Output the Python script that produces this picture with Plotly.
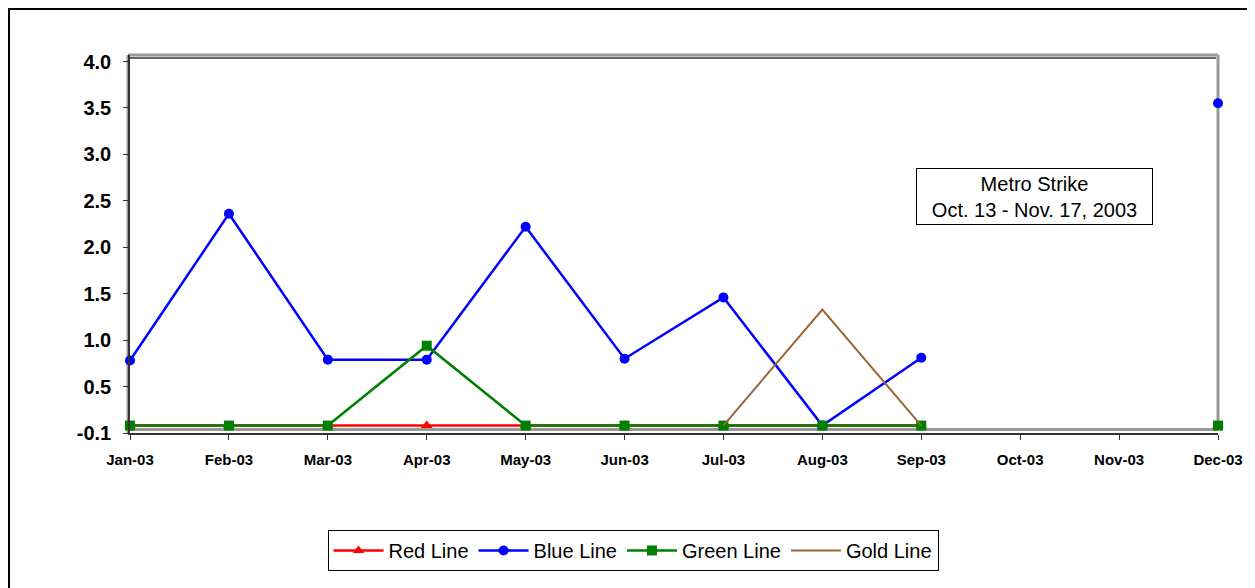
import plotly.graph_objects as go

months = ["Jan-03", "Feb-03", "Mar-03", "Apr-03", "May-03", "Jun-03",
          "Jul-03", "Aug-03", "Sep-03", "Oct-03", "Nov-03", "Dec-03"]

red_vals = [0.08, 0.08, 0.08, 0.08, 0.08, 0.08, 0.08, 0.08, 0.08, None, None, 0.08]
blue_vals = [0.78, 2.36, 0.79, 0.79, 2.22, 0.80, 1.46, 0.08, 0.81, None, None, 3.55]
green_vals = [0.08, 0.08, 0.08, 0.94, 0.08, 0.08, 0.08, 0.08, 0.08, None, None, 0.08]
gold_vals = [None, None, None, None, None, None, 0.08, 1.33, 0.08, None, None, None]

y_tickvals = [0, 0.5, 1.0, 1.5, 2.0, 2.5, 3.0, 3.5, 4.0]
y_ticktext = ["-0.1", "0.5", "1.0", "1.5", "2.0", "2.5", "3.0", "3.5", "4.0"]

FONT = "Arial, Liberation Sans, sans-serif"

fig = go.Figure()
fig.add_trace(go.Scatter(x=months, y=red_vals, name="Red Line", mode="lines+markers",
                         line=dict(color="#FF0000", width=2.5),
                         marker=dict(symbol="triangle-up", size=10, color="#FF0000"),
                         cliponaxis=False, connectgaps=False))
fig.add_trace(go.Scatter(x=months, y=blue_vals, name="Blue Line", mode="lines+markers",
                         line=dict(color="#0000FF", width=2.5),
                         marker=dict(symbol="circle", size=10, color="#0000FF"),
                         cliponaxis=False, connectgaps=False))
fig.add_trace(go.Scatter(x=months, y=green_vals, name="Green Line", mode="lines+markers",
                         line=dict(color="#008000", width=2.5),
                         marker=dict(symbol="square", size=10, color="#008000"),
                         cliponaxis=False, connectgaps=False))
fig.add_trace(go.Scatter(x=months, y=gold_vals, name="Gold Line", mode="lines",
                         line=dict(color="#996633", width=2),
                         cliponaxis=False, connectgaps=False))

OFF = 8  # page body margin
W, H = 1247, 580
L, R, T, B = 122, 37, 47, 155
pw = W - L - R
ph = H - T - B


def px_x(p):
    return (p - OFF - L) / pw


def px_y(p):
    return (H - B - (p - OFF)) / ph


shapes = [
    # outer chart border
    dict(type="rect", xref="paper", yref="paper",
         x0=px_x(9), x1=px_x(1300), y0=px_y(640), y1=px_y(9),
         line=dict(color="#000000", width=2), layer="below"),
    # gray walls
    dict(type="line", xref="paper", yref="paper", x0=px_x(128), x1=px_x(1218),
         y0=px_y(55), y1=px_y(55), line=dict(color="#999999", width=3), layer="below"),
    dict(type="line", xref="paper", yref="paper", x0=px_x(1218), x1=px_x(1218),
         y0=px_y(55), y1=px_y(430), line=dict(color="#999999", width=3), layer="below"),
    dict(type="line", xref="paper", yref="paper", x0=px_x(128), x1=px_x(128),
         y0=px_y(55), y1=px_y(433), line=dict(color="#999999", width=3), layer="below"),
    dict(type="line", xref="paper", yref="paper", x0=px_x(128), x1=px_x(1218),
         y0=px_y(429.5), y1=px_y(429.5), line=dict(color="#999999", width=3), layer="below"),
    dict(type="line", xref="paper", yref="paper", x0=px_x(130), x1=px_x(1216),
         y0=px_y(58), y1=px_y(58), line=dict(color="#333333", width=1.5), layer="below"),
]

fig.update_layout(
    width=W, height=H,
    margin=dict(l=L, r=R, t=T, b=B),
    paper_bgcolor="white", plot_bgcolor="white",
    font=dict(family=FONT, color="black"),
    showlegend=True,
    legend=dict(orientation="h", xref="container", yref="container",
                x=(633 - OFF) / W, xanchor="center", y=1 - (530 - OFF) / H, yanchor="top",
                bordercolor="black", borderwidth=1, bgcolor="white",
                font=dict(size=20, family=FONT),
                itemwidth=50, tracegroupgap=0),
    xaxis=dict(type="category", categoryorder="array", categoryarray=months,
               range=[0, 11], showgrid=False, zeroline=False,
               showline=True, linecolor="#333333", linewidth=1.5,
               ticks="outside", ticklen=5, tickcolor="#333333",
               ticklabelstandoff=7,
               tickfont=dict(size=15, family=FONT, weight="bold")),
    yaxis=dict(range=[0, 4.07], tickvals=y_tickvals, ticktext=y_ticktext,
               showgrid=False, zeroline=False,
               showline=True, linecolor="#333333", linewidth=1.5,
               ticks="outside", ticklen=5, tickcolor="#333333",
               ticklabelstandoff=8,
               tickfont=dict(size=20, family=FONT, weight="bold")),
    shapes=shapes,
    annotations=[dict(xref="paper", yref="paper", x=px_x(1034.5), y=px_y(196.5),
                      xanchor="center", yanchor="middle",
                      text="Metro Strike<br>Oct. 13 - Nov. 17, 2003",
                      showarrow=False, bordercolor="black", borderwidth=1,
                      bgcolor="white", borderpad=3,
                      font=dict(size=20, family=FONT),
                      width=229, height=49, align="center")],
)

fig.write_html("out.html")
